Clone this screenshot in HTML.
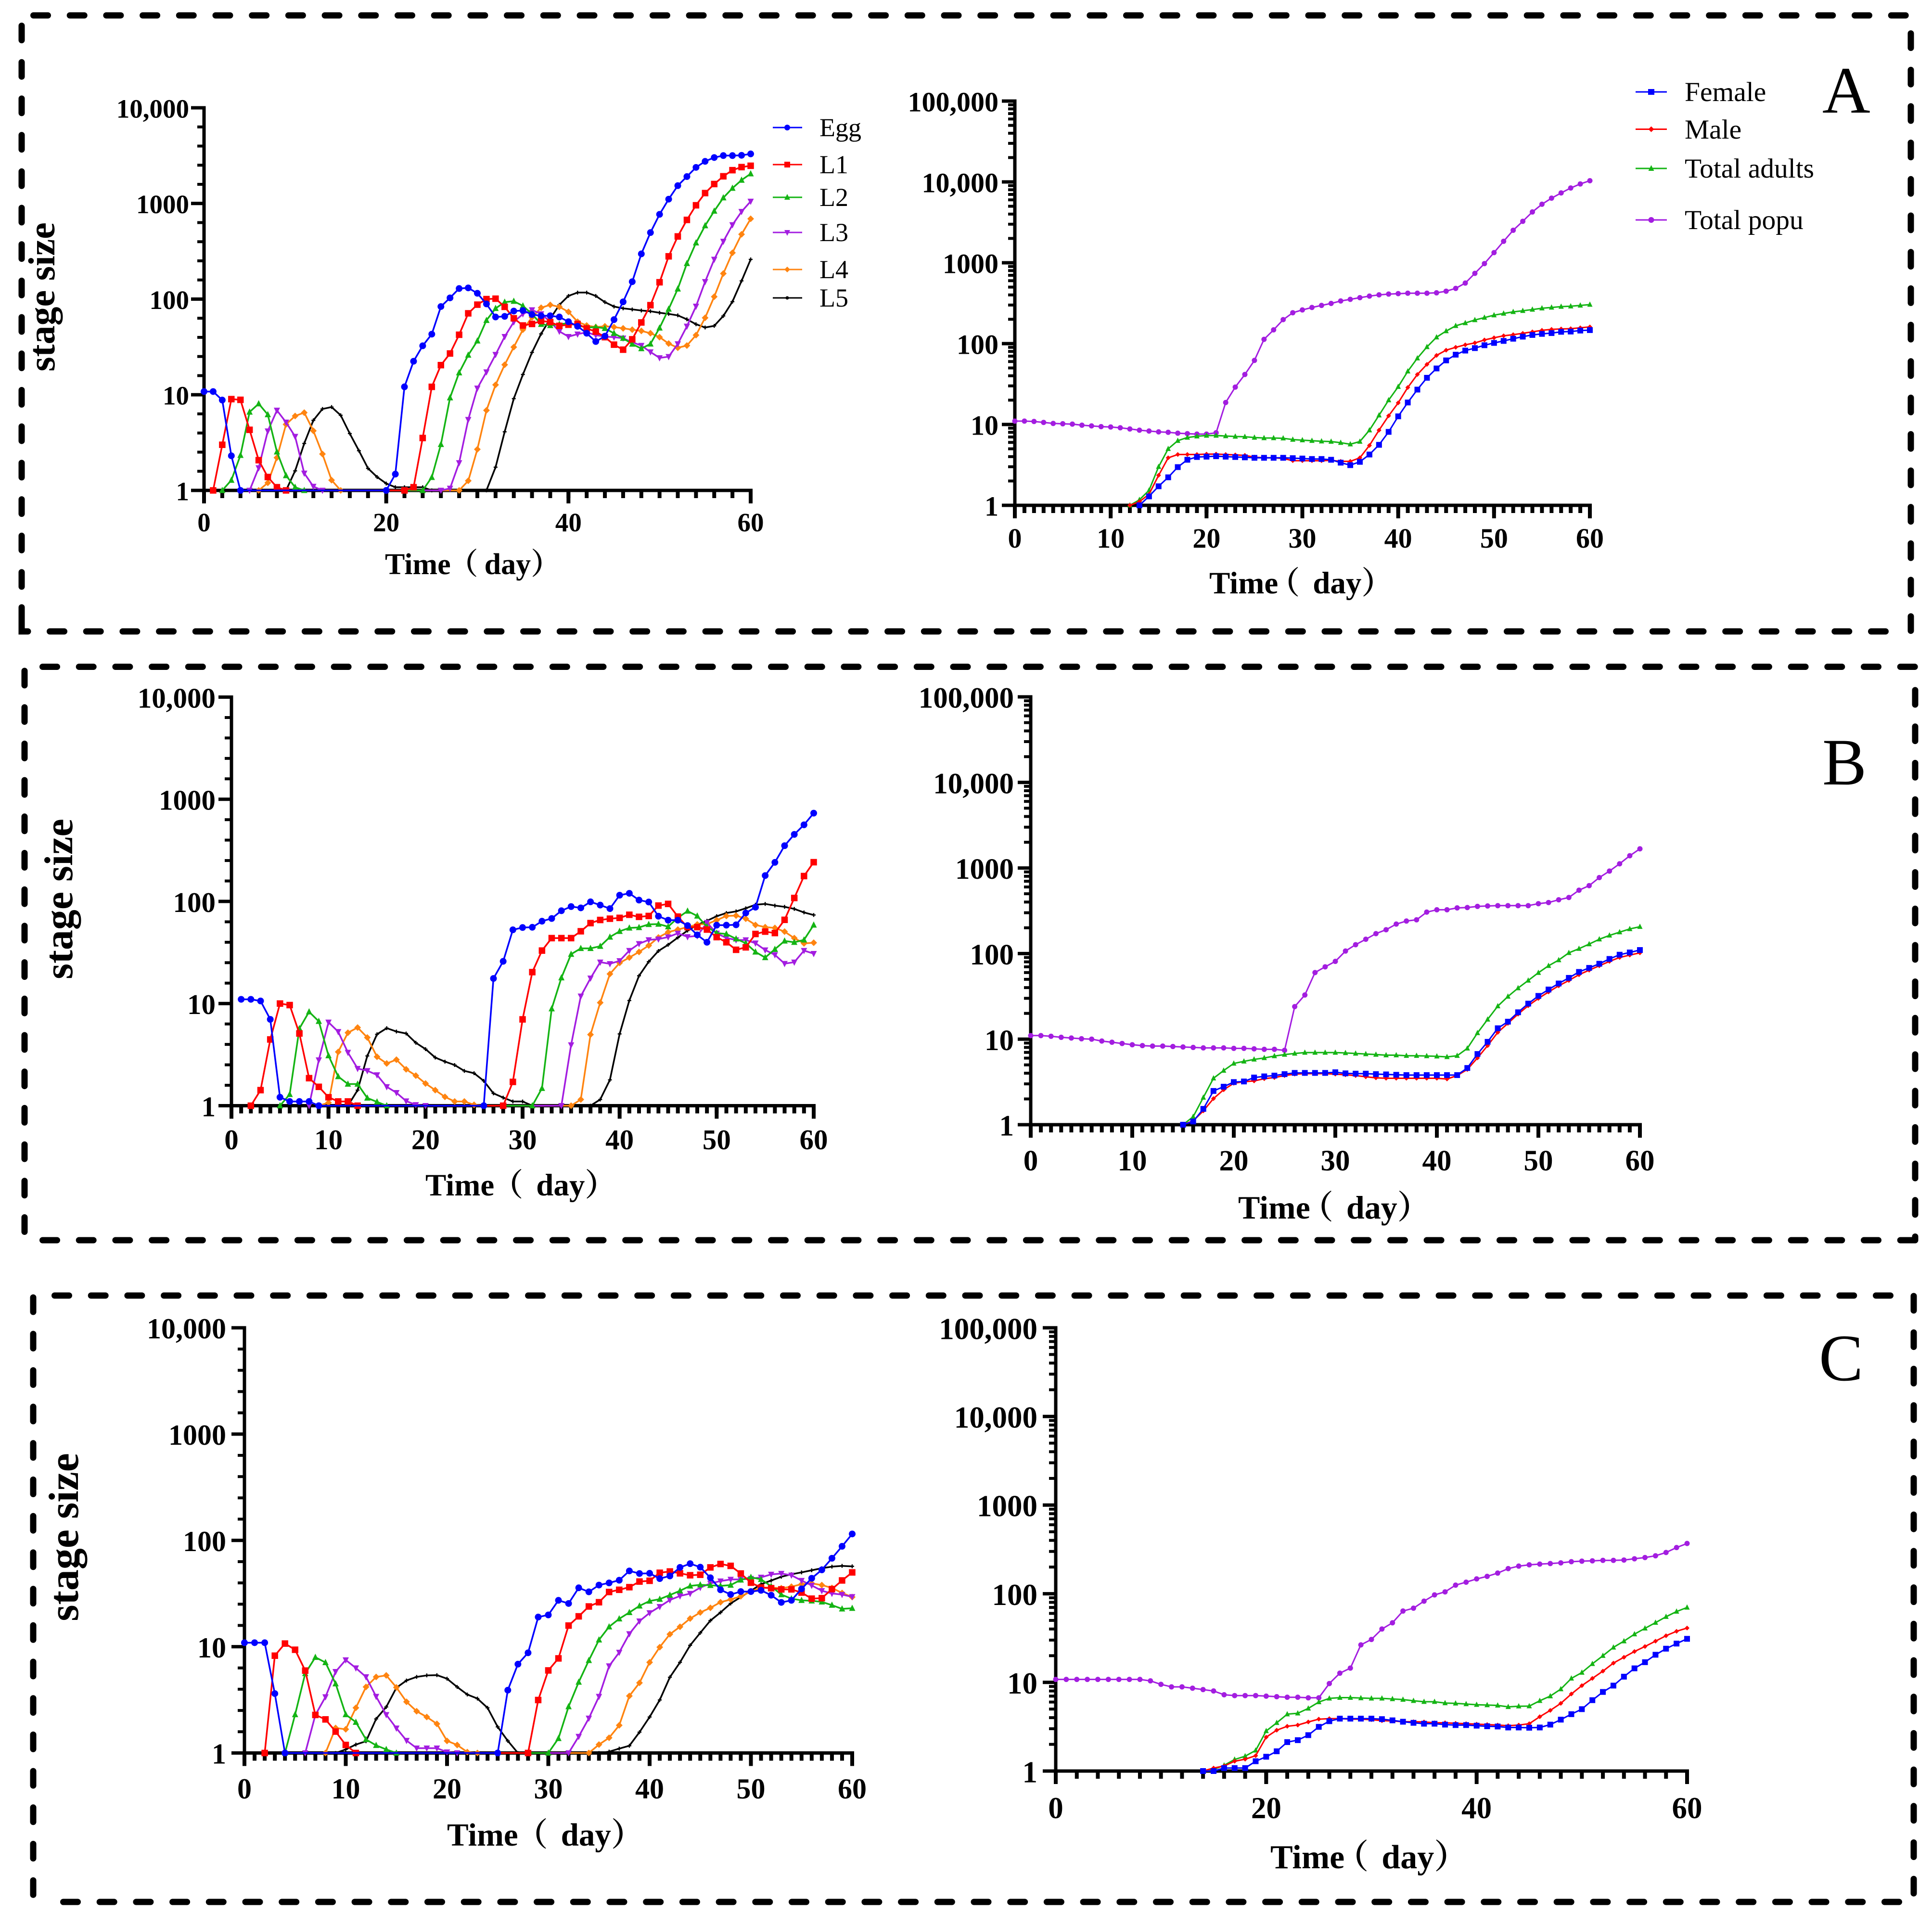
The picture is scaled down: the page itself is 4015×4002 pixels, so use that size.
<!DOCTYPE html>
<html lang="en">
<head>
<meta charset="utf-8">
<title>Stage size and population over time</title>
<style>
html,body{margin:0;padding:0;background:#fff}
svg{display:block}
text{font-family:"Liberation Serif","Noto Serif CJK SC",serif;fill:#000}
.bold{font-weight:700}
.border{stroke:#000;stroke-width:13;stroke-linecap:round;stroke-dasharray:30 45.7;fill:none}
.corner{stroke:#000;stroke-width:13;stroke-linecap:round;fill:none}
</style>
</head>
<body>
<svg id="figure" xmlns="http://www.w3.org/2000/svg" width="4015" height="4002" viewBox="0 0 4015 4002">
<rect x="0" y="0" width="4015" height="4002" fill="#fff"/>

<g>
<line class="border" x1="69.5" y1="32" x2="3971" y2="32"/>
<line class="border" x1="103.5" y1="1312" x2="3945" y2="1312"/>
<line class="border" x1="45" y1="53.5" x2="45" y2="1240"/>
<path class="corner" d="M45 1262V1312H58"/>
<line class="border" x1="3971" y1="69.5" x2="3971" y2="1312"/>
</g>
<g>
<line class="border" x1="88.5" y1="1385.5" x2="3982" y2="1385.5"/>
<line class="border" x1="88.5" y1="2577" x2="3982" y2="2577"/>
<line class="border" x1="51" y1="1394" x2="51" y2="2570"/>
<line class="border" x1="3980" y1="1434" x2="3980" y2="2577"/>
</g>
<g>
<line class="border" x1="113.5" y1="2692" x2="3945" y2="2692"/>
<line class="border" x1="131.5" y1="3952" x2="3957" y2="3952"/>
<line class="border" x1="69" y1="2696" x2="69" y2="3952"/>
<line class="border" x1="3977" y1="2693" x2="3977" y2="3950"/>
</g>

<text x="3787" y="234" font-size="138">A</text>
<text x="3787" y="1630" font-size="138">B</text>
<text x="3780" y="2868" font-size="138">C</text>

<text class="bold" font-size="78" text-anchor="middle" transform="translate(113,617) rotate(-90)">stage size</text>
<text class="bold" font-size="84" text-anchor="middle" transform="translate(150,1868) rotate(-90)">stage size</text>
<text class="bold" font-size="88" text-anchor="middle" transform="translate(162,3194) rotate(-90)">stage size</text>

<text class="bold" x="800" y="1193" font-size="62">Time<tspan dx="-5">（</tspan><tspan dx="13">day）</tspan></text>
<text class="bold" x="2513" y="1233" font-size="65">Time<tspan dx="-20">（</tspan><tspan dx="27">day）</tspan></text>
<text class="bold" x="884" y="2484" font-size="65">Time<tspan dx="-5">（</tspan><tspan dx="27">day）</tspan></text>
<text class="bold" x="2573" y="2532" font-size="68">Time<tspan dx="-20">（</tspan><tspan dx="27">day）</tspan></text>
<text class="bold" x="929" y="3835" font-size="67">Time<tspan dx="-5">（</tspan><tspan dx="27">day）</tspan></text>
<text class="bold" x="2640" y="3882" font-size="70">Time<tspan dx="-20">（</tspan><tspan dx="27">day）</tspan></text>

<g>
<g>
<line x1="1606" y1="265" x2="1667" y2="265" stroke="#0000ff" stroke-width="3"/>
<circle cx="1636" cy="265" r="6" fill="#0000ff"/>
<text x="1703" y="283" font-size="54">Egg</text>
</g>
<g>
<line x1="1606" y1="342" x2="1667" y2="342" stroke="#ff0000" stroke-width="3"/>
<rect x="1630" y="336" width="12" height="12" fill="#ff0000"/>
<text x="1703" y="360" font-size="54">L1</text>
</g>
<g>
<line x1="1606" y1="410" x2="1667" y2="410" stroke="#14b414" stroke-width="3"/>
<polygon points="1636,403 1642,415 1630,415" fill="#14b414"/>
<text x="1703" y="428" font-size="54">L2</text>
</g>
<g>
<line x1="1606" y1="483" x2="1667" y2="483" stroke="#a31de0" stroke-width="3"/>
<polygon points="1630,478 1642,478 1636,490" fill="#a31de0"/>
<text x="1703" y="501" font-size="54">L3</text>
</g>
<g>
<line x1="1606" y1="560" x2="1667" y2="560" stroke="#ff8410" stroke-width="3"/>
<polygon points="1636,554 1642,560 1636,566 1630,560" fill="#ff8410"/>
<text x="1703" y="578" font-size="54">L4</text>
</g>
<g>
<line x1="1606" y1="619" x2="1667" y2="619" stroke="#000" stroke-width="3"/>
<circle cx="1636" cy="619" r="3.5" fill="#000"/>
<text x="1703" y="637" font-size="54">L5</text>
</g>
</g>

<g>
<g>
<line x1="3399" y1="191" x2="3464" y2="191" stroke="#0000ff" stroke-width="3"/>
<rect x="3425" y="185" width="13" height="12" fill="#0000ff"/>
<text x="3501" y="210" font-size="57.5">Female</text>
</g>
<g>
<line x1="3399" y1="268.5" x2="3464" y2="268.5" stroke="#ff0000" stroke-width="3"/>
<polygon points="3431.5,262.5 3437.5,268.5 3431.5,274.5 3425.5,268.5" fill="#ff0000"/>
<text x="3501" y="288" font-size="57.5">Male</text>
</g>
<g>
<line x1="3399" y1="350" x2="3464" y2="350" stroke="#14b414" stroke-width="3"/>
<polygon points="3431.5,343 3437.5,355 3425.5,355" fill="#14b414"/>
<text x="3501" y="369" font-size="57.5">Total adults</text>
</g>
<g>
<line x1="3399" y1="457" x2="3464" y2="457" stroke="#a31de0" stroke-width="3"/>
<circle cx="3431.5" cy="457" r="6" fill="#a31de0"/>
<text x="3501" y="476" font-size="57.5">Total popu</text>
</g>
</g>

<g id="charts"></g>
</svg>

<script>
// ---------- tick data ----------
const stageYValues = [1, 10, 100, 1000, 10000];
const stageYLabels = ['1', '10', '100', '1000', '10,000'];
const adultYValues = [1, 10, 100, 1000, 10000, 100000];
const adultYLabels = ['1', '10', '100', '1000', '10,000', '100,000'];
const xTicksBy20 = [0, 20, 40, 60];
const xTicksBy10 = [0, 10, 20, 30, 40, 50, 60];

// ---------- Panel A, stage size, day 0..60 ----------
const aEgg = [10.8,10.8,8.8,2.3,1,1,1,1,1,1,
 1,1,1,1,1,1,1,1,1,1,
 1,1.48,12.1,22.4,32.5,43,83.6,103,129,131,
 115,89,65,66,75,76,69,67,67,65,
 58,52,44,36,41,61,93.6,152,297,496,
 769,1109,1535,1910,2382,2755,3020,3165,3165,3187,
 3296];
const aL1 = [null,1,3,9,8.85,4.3,2.07,1.38,1.08,1,
 1,1,1,1,1,1,1,1,1,1,
 1,1,1,1.08,3.53,12.1,20.4,27,42.4,71,
 87.5,100,101,83,63,53,55,59,57.6,52.5,
 54,55,49.4,45.7,40,33.4,29.6,38,57,86.4,
 150,280,452,673,957,1283,1596,1923,2228,2399,
 2477];
const aL2 = [null,null,1,1.28,2.33,6.6,8.06,6.2,2.53,1.43,
 1.08,1,1,1,1,1,1,1,1,1,
 1,1,1,1,1,1.37,3.03,9.3,17,26,
 36.6,60,80,93,95,85,70,54.6,53,54.6,
 56,53,50.4,51,49.5,43.9,39,33.9,30.4,34,
 50,78.7,128,236,388,586,833,1147,1445,1754,
 2044];
const aL3 = [null,null,null,null,null,1,1.72,4.17,6.87,5.16,
 3.66,1.51,1.1,1,1,1,1,1,1,1,
 1,1,1,1,1,1,1,1.05,1.94,5.5,
 11.7,17.3,26.3,40.5,57.6,70,77,70,58,46,
 40.5,43,45,42,40.5,40,39,35.4,32.7,28,
 24.3,25,34,52,84,152,260,401,597,822,
 1052];
const aL4 = [null,null,null,null,null,null,1,1.2,2.2,4.9,
 6,6.5,4.2,2.4,1.28,1,1,1,1,1,
 1,1,1,1,1,1,1,1,1,1.26,
 2.69,6.87,12.7,20.6,31.5,47.9,64.5,81.3,87,83,
 73.6,58,53,51,52,51,49.5,47.9,46.5,44,
 40,34.3,31,32.7,42,63.7,106,185,305,476,
 691];
const aL5 = [null,null,null,null,null,null,null,null,null,1,
 1.6,3.1,5.4,7.1,7.44,6.1,3.93,2.6,1.7,1.38,
 1.18,1.08,1.08,1.08,1.08,1,1,1,1,1,
 1,1,1.75,4.1,9.1,16.3,27.7,43.3,62.4,87,
 108,117,117,108,93,83.6,80,78,76,74.6,
 72,70,67.6,61.5,54.6,50.5,52.5,66.7,94,155,
 260];

// ---------- Panel A, adults and population ----------
const aFemale = [null,null,null,null,null,null,null,null,null,null,
 null,null,null,1,1.29,1.72,2.22,2.97,3.66,3.96,
 4,4.05,4,3.96,3.92,3.87,3.87,3.87,3.87,3.83,
 3.79,3.74,3.74,3.66,3.37,3.14,3.45,4.25,5.6,8.1,
 12.6,18.7,27,37.8,49.3,62,73,82,88,95.5,
 102,108,115,122,128,132,135,140,141,145,
 147];
const aMale = [null,null,null,null,null,null,null,null,null,null,
 null,null,1,1.11,1.37,2.35,3.87,4.25,4.25,4.25,
 4.3,4.3,4.25,4.2,4.15,3.95,3.87,3.87,3.8,3.57,
 3.57,3.57,3.57,3.6,3.5,3.5,3.87,5.5,8.5,12.8,
 18.5,28.7,41.5,55.4,71.5,83,90,96.7,102,111,
 118,125,129,134,140,146,150,152,153,157,
 161];
const aAdults = [null,null,null,null,null,null,null,null,null,null,
 null,null,1,1.17,1.53,3,5,6.3,6.9,7.15,
 7.3,7.3,7.2,7.1,7.05,6.9,6.8,6.8,6.75,6.5,
 6.4,6.3,6.2,6.15,5.95,5.7,6.15,8.5,13,20,
 29.3,45.5,66,91,120,143,166,180,196,210,
 225,236,247,255,264,274,280,287,290,297,
 304];
const aPopu = [11,11,10.9,10.6,10.3,10.2,10.1,9.8,9.6,9.4,
 9.3,9.1,8.8,8.5,8.3,8.1,8,7.8,7.7,7.6,
 7.6,7.9,18.7,29,41.5,62,113,148,198,241,
 261,280,297,314,337,353,370,387,401,410,
 415,420,420,420,425,445,482,561,740,977,
 1336,1845,2524,3258,4250,5297,6295,7311,8410,9441,
 10350];

// ---------- Panel B, stage size ----------
const bEgg = [null,11,11,10.6,7,1.21,1.1,1.1,1.1,1,
 1,1,1,1,1,1,1,1,1,1,
 1,1,1,1,1,1,1,17.6,25.9,52.7,
 55.5,55.8,64,68,81,89,86.4,99,92,85,
 115,120,103,98.6,71.6,65.5,65.5,58,47,39.8,
 58.5,58.5,59,77,87.7,179,241,351,453,562,
 731];
const bL1 = [null,null,1,1.42,4.45,10,9.66,5.09,1.86,1.53,
 1.21,1.1,1.1,1,1,1,1,1,1,1,
 1,1,1,1,1,1,1,1,1,1.71,
 7,20.3,33,43.7,43.7,43.7,51,61.3,65.8,67.7,
 69,74,70.6,72,91,94.5,71,56,56,53,
 44.7,39.8,33.6,35.5,48,50.6,49,66,108,177,
 242];
const bL2 = [null,null,null,null,null,1,1.29,5.7,8.3,6.7,
 3.09,1.93,1.63,1.63,1.19,1.09,1,1,1,1,
 1,1,1,1,1,1,1,1,1,1,
 1,1,1.48,8.9,17.9,30.4,34.7,34.7,36.4,44.8,
 51,55,55.6,59.6,60,56.6,69,80.5,72,56.6,
 49,48,43,39,32,28.2,34,41,39.8,42,
 58.8];
const bL3 = [null,null,null,null,null,null,null,null,1,2.8,
 6.56,5.3,3.32,2.31,2.2,2,1.53,1.34,1.11,1.02,
 1,1,1,1,1,1,1,1,1,1,
 1,1,1,1,1,3.93,11.8,17.7,25.4,24.5,
 26.2,33,38.5,42,42.7,44.8,48.7,45,46,62,
 48.7,43.9,41.9,41.9,39,33.4,30,24.6,25.4,33,
 30.8];
const bL4 = [null,null,null,null,null,null,null,null,null,1,
 1.07,3.36,5.18,5.82,4.65,3.01,2.59,2.82,2.27,1.97,
 1.65,1.42,1.22,1.1,1.1,1.02,1,1,1,1,
 1,1,1,1,1,1,1.15,4.97,10.2,19.5,
 25,28.2,32,37,44.4,50,53,56,59.6,60,
 65.5,72,72.6,67.7,58.8,56,55,50.6,43.7,38.8,
 39.4];
const bL5 = [null,null,null,null,null,null,null,null,null,null,
 null,1,1,1.42,3.07,5,5.74,5.32,5.09,4.13,
 3.58,2.96,2.7,2.5,2.19,2.08,1.75,1.32,1.2,1.1,
 1.1,1,1,1,1,1,1,1,1.15,1.79,
 5.04,10.7,18.7,25.7,32.7,37.6,44.3,51.8,58.8,64.6,
 71.6,77,79.8,85.6,92.8,94.5,91,88.5,84.4,78,
 73.6];

// ---------- Panel B, adults and population ----------
const bFemale = [null,null,null,null,null,null,null,null,null,null,
 null,null,null,null,null,1,1.09,1.53,2.48,2.78,
 3.15,3.2,3.56,3.67,3.75,3.9,4.03,4.03,4.03,4.03,
 4.1,3.98,3.95,3.95,3.9,3.87,3.83,3.8,3.8,3.8,
 3.8,3.8,3.8,4.6,6.7,9.3,13.4,16,20.6,26,
 32,38,44.7,52,61,68,76,86.5,97,103,
 110];
const bMale = [null,null,null,null,null,null,null,null,null,null,
 null,null,null,null,null,1,1.11,1.45,2.02,2.56,
 3.05,3.18,3.25,3.45,3.56,3.75,3.9,3.95,3.95,3.95,
 3.9,3.83,3.75,3.63,3.53,3.49,3.49,3.49,3.49,3.49,
 3.49,3.42,3.75,4.42,6.03,8.4,12,15.3,19.6,24.6,
 29.9,35.6,42,48.5,56.6,64,72,81,90,96,
 102];
const bAdults = [null,null,null,null,null,null,null,null,null,null,
 null,null,null,null,null,1,1.24,2.08,3.49,4.29,
 5.2,5.5,5.8,6.03,6.35,6.6,6.8,6.97,6.97,6.97,
 6.97,6.9,6.8,6.7,6.6,6.5,6.5,6.4,6.4,6.35,
 6.3,6.2,6.4,7.8,11.8,17,24.3,31.5,39.5,48.5,
 59.7,72,84,102,114,129,147,163,178,194,
 206];
const bPopu = [11,11,10.8,10.5,10.3,10.1,10,9.5,9.2,8.9,
 8.6,8.4,8.3,8.3,8.2,8.1,8,7.9,7.9,7.9,
 7.8,7.8,7.7,7.6,7.6,7.4,24,32.8,60,70,
 81,107,127,147,171,190,221,240,248,305,
 325,325,342,345,356,360,363,363,363,363,
 383,395,425,452,550,622,773,920,1120,1390,
 1675];

// ---------- Panel C, stage size ----------
const cEgg = [10.9,10.9,10.9,3.62,1,1,1,1,1,1,
 1,1,1,1,1,1,1,1,1,1,
 1,1,1,1,1,1,3.9,6.85,8.76,19,
 19.9,27.3,25.5,35.8,32.8,38,39.8,42.2,51.6,48.8,
 49,43.7,46.3,55.7,60.4,56,44.5,34.3,31,33,
 33,33.9,30.5,26.1,27.3,35,44,52.8,67.9,88,
 115];
const cL1 = [null,null,1,8.23,10.7,9.36,5.96,2.28,2.07,1.59,
 1.19,1,1,1,1,1,1,1,1,1,
 1,1,1,1,1,1,1,1,1,3.15,
 5.98,7.76,15.8,19.3,23.9,26.2,32.7,34.3,36.3,41,
 41.7,49.6,51,49,47,47.5,55.7,60,57.6,48.8,
 40,36,35.5,34.6,34.6,32.3,28.3,28.6,34.8,42,
 50];
const cL2 = [null,null,null,null,1,2.3,5.6,7.95,7.1,4.48,
 2.3,1.95,1.34,1.18,1.08,1,1,1,1,1,
 1,1,1,1,1,1,1,1,1,1,
 1,1.37,2.73,4.65,7.43,11.6,15.4,18.3,21,24.2,
 26.9,28,30.6,33.6,37.3,38.2,37.8,37.3,38,42.5,
 45,43,37,30.9,28.3,27.3,27,26.4,24.6,22.7,
 23];
const cL3 = [null,null,null,null,null,null,1,2.28,3.37,5.82,
 7.5,6.3,5.2,3.4,2.29,1.71,1.31,1.11,1.11,1.11,
 1.02,1,1,1,1,1,1,1,1,1,
 1,1,1,1.43,2.12,3.4,6.58,8.84,13.2,17.4,
 20.8,23.8,27.5,30,31.6,36,39.4,41.4,42.9,42.9,
 43.7,44.9,47.9,48.8,47,41.9,37.7,33.6,31.7,30.9,
 29.5];
const cL4 = [null,null,null,null,null,null,null,null,1,1.72,
 1.67,2.66,4.18,5.19,5.37,4.14,3.03,2.47,2.18,1.88,
 1.3,1.19,1.02,1,1,1,1,1,1,1,
 1,1,1,1,1,1.2,1.39,1.82,3.44,4.57,
 7.13,9.9,13.1,15.4,18.4,21,23.2,26.2,27.8,29.8,
 33,36,36,35.5,36.7,38.7,39.4,38,35.7,32,
 29.3];
const cL5 = [null,null,null,null,null,null,null,null,null,1,
 1.08,1.2,1.29,2.09,2.71,4.11,4.81,5.2,5.37,5.4,
 5,4.18,3.55,3.25,2.66,1.76,1.3,1,1,1,
 1,1,1,1,1,1,1.03,1.1,1.17,1.57,
 2.18,3.15,5.16,7.13,10.3,13.5,17.6,21,25.5,29.3,
 33.6,38.7,41.9,45.5,48,50,52.3,54.7,56.6,57.6,
 57];

// ---------- Panel C, adults and population ----------
const cFemale = [null,null,null,null,null,null,null,null,null,null,
 null,null,null,null,1,1,1.08,1.08,1.08,1.29,
 1.45,1.67,2.12,2.23,2.54,3.15,3.65,3.9,3.9,3.9,
 3.9,3.85,3.73,3.6,3.5,3.42,3.42,3.34,3.3,3.3,
 3.25,3.2,3.18,3.1,3.1,3.08,3.1,3.34,3.8,4.38,
 4.99,6.3,7.8,9.2,11.6,14.4,16.9,20.5,24,27.4,
 31];
const cMale = [null,null,null,null,null,null,null,null,null,null,
 null,null,null,null,1,1.08,1.14,1.29,1.36,1.49,
 2.41,2.89,3.2,3.3,3.58,3.85,3.9,3.9,3.85,3.85,
 3.8,3.7,3.67,3.6,3.6,3.58,3.5,3.5,3.45,3.42,
 3.38,3.34,3.3,3.25,3.3,3.42,4.1,4.83,5.8,7.4,
 9.2,11.1,13.4,16.5,19.2,22.3,25.4,29.2,33.6,37.7,
 41];
const cAdults = [null,null,null,null,null,null,null,null,null,null,
 null,null,null,null,1,1.04,1.16,1.35,1.47,1.71,
 2.83,3.5,4.38,4.48,5.09,6,6.6,6.73,6.73,6.66,
 6.6,6.6,6.5,6.4,6.2,6.05,6.05,5.85,5.8,5.7,
 5.6,5.55,5.5,5.3,5.38,5.4,6.2,7,8.4,11.1,
 12.9,16.2,20,24.8,29.2,35,40.7,47.2,55,63,
 70];
const cPopu = [10.8,10.8,10.8,10.8,10.8,10.8,10.8,10.8,10.8,10.4,
 9.5,8.9,8.9,8.6,8.3,8,7.25,7.1,7.1,7.1,
 7,6.9,6.8,6.8,6.7,6.7,9.7,12.7,14.5,26.5,
 30.5,40,47,63.8,68.7,82.5,97,105,125,135,
 147,157,171,192,205,212,216,219,223,230,
 233,235,238,238,240,248,256,268,292,332,
 369];

// ---------- styles ----------
const BLUE = '#0000ff', RED = '#ff0000', GREEN = '#14b414', PURPLE = '#a31de0', ORANGE = '#ff8410', BLACK = '#000000';
const SVGNS = 'http://www.w3.org/2000/svg';
const root = document.getElementById('charts');

function make(tag, attrs, parent) {
  const el = document.createElementNS(SVGNS, tag);
  for (const k in attrs) el.setAttribute(k, attrs[k]);
  parent.appendChild(el);
  return el;
}

function drawMarker(parent, shape, x, y, s, color) {
  let el;
  const h = s / 2;
  if (shape === 'circle') {
    el = make('circle', { cx: x, cy: y, r: h, fill: color }, parent);
  } else if (shape === 'square') {
    el = make('rect', { x: x - h, y: y - h, width: s, height: s, fill: color }, parent);
  } else if (shape === 'up') {
    el = make('polygon', { points: (x) + ',' + (y - h - 1) + ' ' + (x + h) + ',' + (y + h - 1) + ' ' + (x - h) + ',' + (y + h - 1), fill: color }, parent);
  } else if (shape === 'down') {
    el = make('polygon', { points: (x - h) + ',' + (y - h + 1) + ' ' + (x + h) + ',' + (y - h + 1) + ' ' + (x) + ',' + (y + h + 1), fill: color }, parent);
  } else if (shape === 'diamond') {
    el = make('polygon', { points: x + ',' + (y - h) + ' ' + (x + h) + ',' + y + ' ' + x + ',' + (y + h) + ' ' + (x - h) + ',' + y, fill: color }, parent);
  } else {
    el = make('path', { d: 'M' + (x - h) + ' ' + y + 'H' + (x + h) + 'M' + x + ' ' + (y - h) + 'V' + (y + h), stroke: color, 'stroke-width': 2.5, fill: 'none' }, parent);
  }
  
  
}

function drawChart(layout, yValues, yLabels, xTicks, xMinorStep, series) {
  const g = make('g', {}, root);
  
  

  const maxVal = yValues[yValues.length - 1];
  const decades = Math.log10(maxVal);
  const xScale = d => layout.x0 + (layout.x60 - layout.x0) * d / 60;
  const yScale = v => layout.y1 - (layout.y1 - layout.yTop) * Math.log10(v) / decades;

  // y minor ticks
  for (let i = 0; i + 1 < yValues.length; i++) {
    const base = yValues[i];
    const steps = layout.minorLog ? [2, 3, 4, 5, 6, 7, 8, 9].map(m => m * base)
                                  : [1, 2, 3, 4].map(k => base * Math.pow(10, k / 5));
    steps.forEach(v => {
      const t = make('line', { x1: layout.x0 - 14, x2: layout.x0, y1: yScale(v), y2: yScale(v), stroke: '#000', 'stroke-width': 6 }, g);
      
      
    });
  }
  // y major ticks and labels
  yValues.forEach((v, i) => {
    const t = make('line', { x1: layout.x0 - 27, x2: layout.x0, y1: yScale(v), y2: yScale(v), stroke: '#000', 'stroke-width': 7 }, g);
    
    
    const lab = make('text', { x: layout.yLabelX, y: yScale(v) + layout.font * 0.37, 'text-anchor': 'end', 'font-size': layout.font, 'font-weight': 700 }, g);
    
    
    lab.textContent = yLabels[i];
  });
  // x minor ticks
  for (let d = 0; d <= 60; d += xMinorStep) {
    const t = make('line', { x1: xScale(d), x2: xScale(d), y1: layout.y1, y2: layout.y1 + 16, stroke: '#000', 'stroke-width': 8 }, g);
    
    
  }
  // x major ticks and labels
  xTicks.forEach(d => {
    const t = make('line', { x1: xScale(d), x2: xScale(d), y1: layout.y1, y2: layout.y1 + 27, stroke: '#000', 'stroke-width': 8 }, g);
    
    
    const lab = make('text', { x: xScale(d), y: layout.xLabelY, 'text-anchor': 'middle', 'font-size': layout.font, 'font-weight': 700 }, g);
    
    
    lab.textContent = String(d);
  });
  // axes
  const yAxis = make('line', { x1: layout.x0, x2: layout.x0, y1: layout.yTop - 3.5, y2: layout.y1 + 27, stroke: '#000', 'stroke-width': 7 }, g);
  
  
  const xAxis = make('line', { x1: layout.x0 - 3, x2: layout.x60 + 4, y1: layout.y1, y2: layout.y1, stroke: '#000', 'stroke-width': 7 }, g);
  
  

  // series
  series.forEach(sr => {
    const pts = [];
    sr.values.forEach((v, d) => {
      if (v !== null) pts.push(xScale(d).toFixed(1) + ',' + yScale(v).toFixed(1));
    });
    const line = make('polyline', { points: pts.join(' '), fill: 'none', stroke: sr.color, 'stroke-width': layout.lineWidth, 'stroke-linejoin': 'round' }, g);
    
    
    sr.values.forEach((v, d) => {
      if (v === null) return;
      const prev = d > 0 ? sr.values[d - 1] : null;
      const next = d < 60 ? sr.values[d + 1] : null;
      if (v === 1 && prev === 1 && next === 1) return;
      drawMarker(g, sr.shape, xScale(d), yScale(v), sr.size, sr.color);
    });
  });
}

function stageSeries(egg, l1, l2, l3, l4, l5) {
  return [
    { values: l5, color: BLACK, shape: 'plus', size: 8 },
    { values: l4, color: ORANGE, shape: 'diamond', size: 14 },
    { values: l3, color: PURPLE, shape: 'down', size: 13 },
    { values: l2, color: GREEN, shape: 'up', size: 13 },
    { values: l1, color: RED, shape: 'square', size: 13.5 },
    { values: egg, color: BLUE, shape: 'circle', size: 14 }
  ];
}
function adultSeries(female, male, adults, popu) {
  return [
    { values: popu, color: PURPLE, shape: 'circle', size: 11 },
    { values: adults, color: GREEN, shape: 'up', size: 11 },
    { values: male, color: RED, shape: 'diamond', size: 10 },
    { values: female, color: BLUE, shape: 'square', size: 12 }
  ];
}

drawChart({ x0: 424, x60: 1560, y1: 1019, yTop: 224, font: 55, yLabelX: 393, xLabelY: 1104, lineWidth: 3.5, minorLog: false },
  stageYValues, stageYLabels, xTicksBy20, 2, stageSeries(aEgg, aL1, aL2, aL3, aL4, aL5));
drawChart({ x0: 2109, x60: 3304, y1: 1050, yTop: 210, font: 58, yLabelX: 2075, xLabelY: 1138, lineWidth: 3, minorLog: true },
  adultYValues, adultYLabels, xTicksBy10, 1, adultSeries(aFemale, aMale, aAdults, aPopu));
drawChart({ x0: 481, x60: 1691, y1: 2297.5, yTop: 1448.5, font: 59, yLabelX: 448, xLabelY: 2388, lineWidth: 3.5, minorLog: false },
  stageYValues, stageYLabels, xTicksBy10, 1, stageSeries(bEgg, bL1, bL2, bL3, bL4, bL5));
drawChart({ x0: 2142, x60: 3408, y1: 2337, yTop: 1448, font: 61, yLabelX: 2107, xLabelY: 2432, lineWidth: 3, minorLog: true },
  adultYValues, adultYLabels, xTicksBy10, 1, adultSeries(bFemale, bMale, bAdults, bPopu));
drawChart({ x0: 508, x60: 1771, y1: 3642.5, yTop: 2759, font: 60, yLabelX: 470, xLabelY: 3737, lineWidth: 3.5, minorLog: false },
  stageYValues, stageYLabels, xTicksBy10, 1, stageSeries(cEgg, cL1, cL2, cL3, cL4, cL5));
drawChart({ x0: 2194, x60: 3506, y1: 3680, yTop: 2759, font: 63, yLabelX: 2156, xLabelY: 3778, lineWidth: 3, minorLog: true },
  adultYValues, adultYLabels, xTicksBy20, 2, adultSeries(cFemale, cMale, cAdults, cPopu));
</script>
</body>
</html>
